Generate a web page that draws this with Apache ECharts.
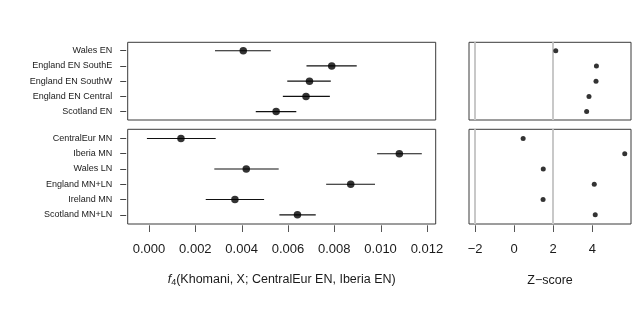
<!DOCTYPE html>
<html>
<head>
<meta charset="utf-8">
<script src="https://cdn.jsdelivr.net/npm/echarts@6/dist/echarts.min.js"></script>
<style>html,body{margin:0;padding:0;background:#fff}#c{width:640px;height:330px}</style>
</head>
<body>
<div id="c"></div>
<script>
// ---- data ----
const topCats = ['Wales EN', 'England EN SouthE', 'England EN SouthW', 'England EN Central', 'Scotland EN'];
const topEst = [0.00407, 0.00789, 0.00693, 0.00678, 0.00549];
const topLo  = [0.00285, 0.00680, 0.00597, 0.00578, 0.00461];
const topHi  = [0.00526, 0.00897, 0.00785, 0.00781, 0.00636];
const topZ   = [2.13, 4.21, 4.19, 3.83, 3.71];

const botCats = ['CentralEur MN', 'Iberia MN', 'Wales LN', 'England MN+LN', 'Ireland MN', 'Scotland MN+LN'];
const botEst = [0.00138, 0.01081, 0.00420, 0.00871, 0.00371, 0.00641];
const botLo  = [-0.00009, 0.00985, 0.00282, 0.00765, 0.00245, 0.00563];
const botHi  = [0.00288, 0.01178, 0.00560, 0.00976, 0.00497, 0.00720];
const botZ   = [0.46, 5.66, 1.49, 4.10, 1.48, 4.15];

const fTicks = [0, 0.002, 0.004, 0.006, 0.008, 0.010, 0.012];
const fTickLabels = ['0.000', '0.002', '0.004', '0.006', '0.008', '0.010', '0.012'];
const zTicks = [-2, 0, 2, 4];
const zRefLines = [-2, 2];

// ---- chart ----
const FONT = '"Liberation Sans", Arial, sans-serif';
const chart = echarts.init(document.getElementById('c'), null, {renderer: 'canvas'});

const rowsOf = arr => arr.map((_, i) => i + 1);
const gridBase = {show: true, borderColor: '#3a3a3a', borderWidth: 1, backgroundColor: 'transparent'};
const L = 127.7, LW = 308, R = 469, RW = 162;
const T1 = 42.3, H1 = 77.7, T2 = 129.3, H2 = 94.7;
const TT = 225.3, TH = 6.7;   // strip holding the x tick marks below the lower panels
const padTop = 0.55, padBot = 0.6;

function yAxisLeft(idx, cats, pad) {
  return {
    type: 'value', gridIndex: idx, inverse: true, min: 1 - pad, max: cats.length + pad, position: 'left',
    splitLine: {show: false}, axisLine: {show: false, onZero: false}, offset: 1.5,
    axisTick: {show: true, length: 6, customValues: rowsOf(cats), lineStyle: {color: '#444', width: 1}},
    axisLabel: {show: true, customValues: rowsOf(cats), margin: 14, fontSize: 9, color: '#1a1a1a', fontFamily: FONT,
      formatter: v => cats[Math.round(v) - 1] || ''}
  };
}
function yAxisHidden(idx, min, max, inverse) {
  return {type: 'value', gridIndex: idx, inverse: !!inverse, min: min, max: max, show: false,
    splitLine: {show: false}, axisLine: {onZero: false}};
}
const fMin = -0.00092, fMax = 0.01238, zMin = -2.31, zMax = 5.98;

function errSeries(xi, yi, lo, hi) {
  return {
    type: 'custom', xAxisIndex: xi, yAxisIndex: yi, silent: true,
    data: lo.map((v, i) => [v, hi[i], i + 1]),
    encode: {x: [0, 1], y: 2},
    renderItem: (params, api) => {
      const a = api.coord([api.value(0), api.value(2)]);
      const b = api.coord([api.value(1), api.value(2)]);
      return {type: 'line', shape: {x1: a[0], y1: a[1], x2: b[0], y2: b[1]}, style: {stroke: '#111', lineWidth: 1.1}};
    }
  };
}
// tick marks drawn inside the thin tick strip grid, positioned by that grid's x scale
function tickSeries(xi, yi, ticks) {
  return {
    type: 'custom', xAxisIndex: xi, yAxisIndex: yi, silent: true,
    data: ticks.map(t => [t, 0, 1]),
    encode: {x: 0, y: [1, 2]},
    renderItem: (params, api) => {
      const a = api.coord([api.value(0), api.value(1)]);
      const b = api.coord([api.value(0), api.value(2)]);
      const x = Math.round(a[0]) + 0.5;
      return {type: 'line', shape: {x1: x, y1: a[1], x2: x, y2: b[1]}, style: {stroke: '#555', lineWidth: 1}};
    }
  };
}
function dotSeries(xi, yi, vals, size, extra) {
  return Object.assign({
    type: 'scatter', xAxisIndex: xi, yAxisIndex: yi, symbol: 'circle', symbolSize: size, silent: true,
    itemStyle: {color: '#000'}, z: 5,
    data: vals.map((v, i) => [v, i + 1])
  }, extra || {});
}
const refLines = {
  markLine: {silent: true, symbol: 'none', label: {show: false}, animation: false,
    lineStyle: {color: '#c8c8c8', width: 2, type: 'solid'},
    data: zRefLines.map(v => ({xAxis: v}))}
};

const option = {
  animation: false,
  backgroundColor: '#fff',
  grid: [
    Object.assign({left: L, top: T1, width: LW, height: H1}, gridBase),
    Object.assign({left: L, top: T2, width: LW, height: H2}, gridBase),
    Object.assign({left: R, top: T1, width: RW, height: H1}, gridBase),
    Object.assign({left: R, top: T2, width: RW, height: H2}, gridBase),
    {left: L, top: TT, width: LW, height: TH, show: false},
    {left: R, top: TT, width: RW, height: TH, show: false}
  ],
  xAxis: [
    {type: 'value', gridIndex: 0, min: fMin, max: fMax, show: false, splitLine: {show: false}, axisLine: {onZero: false}},
    {type: 'value', gridIndex: 1, min: fMin, max: fMax, position: 'bottom', splitLine: {show: false},
      axisLine: {show: false, onZero: false}, offset: 1.5, axisTick: {show: false},
      axisLabel: {customValues: fTicks, margin: 17, fontSize: 13, color: '#1a1a1a', fontFamily: FONT,
        formatter: v => { const i = fTicks.findIndex(t => Math.abs(t - v) < 1e-9); return i >= 0 ? fTickLabels[i] : ''; }},
      name: '{i|f}{s|4}(Khomani, X; CentralEur EN, Iberia EN)', nameLocation: 'middle', nameGap: 47,
      nameTextStyle: {fontSize: 12.5, color: '#1a1a1a', fontFamily: FONT,
        rich: {i: {fontStyle: 'italic', fontSize: 12.5, fontFamily: FONT, color: '#1a1a1a'},
               s: {fontSize: 9, fontFamily: FONT, color: '#1a1a1a', padding: [6, 0, 0, 0]}}}},
    {type: 'value', gridIndex: 2, min: zMin, max: zMax, show: false, splitLine: {show: false}, axisLine: {onZero: false}},
    {type: 'value', gridIndex: 3, min: zMin, max: zMax, position: 'bottom', splitLine: {show: false},
      axisLine: {show: false, onZero: false}, offset: 1.5, axisTick: {show: false},
      axisLabel: {customValues: zTicks, margin: 17, fontSize: 13, color: '#1a1a1a', fontFamily: FONT,
        formatter: v => (v < 0 ? '\u2212' + Math.abs(v) : String(v))},
      name: 'Z\u2212score', nameLocation: 'middle', nameGap: 49,
      nameTextStyle: {fontSize: 12.5, color: '#1a1a1a', fontFamily: FONT}},
    {type: 'value', gridIndex: 4, min: fMin, max: fMax, show: false, splitLine: {show: false}, axisLine: {onZero: false}},
    {type: 'value', gridIndex: 5, min: zMin, max: zMax, show: false, splitLine: {show: false}, axisLine: {onZero: false}}
  ],
  yAxis: [
    yAxisLeft(0, topCats, padTop),
    yAxisLeft(1, botCats, padBot),
    yAxisHidden(2, 1 - padTop, topCats.length + padTop, true),
    yAxisHidden(3, 1 - padBot, botCats.length + padBot, true),
    yAxisHidden(4, 0, 1, false),
    yAxisHidden(5, 0, 1, false)
  ],
  series: [
    errSeries(0, 0, topLo, topHi),
    dotSeries(0, 0, topEst, 7.5),
    errSeries(1, 1, botLo, botHi),
    dotSeries(1, 1, botEst, 7.5),
    dotSeries(2, 2, topZ, 5, refLines),
    dotSeries(3, 3, botZ, 5, refLines),
    tickSeries(4, 4, fTicks),
    tickSeries(5, 5, zTicks)
  ]
};
chart.setOption(option);
</script>
</body>
</html>
